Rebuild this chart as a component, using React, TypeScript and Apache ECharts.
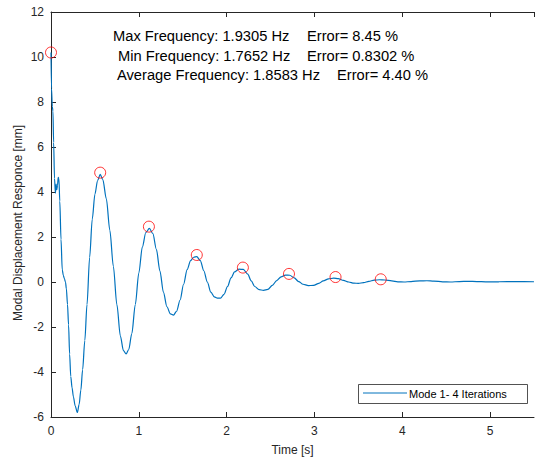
import React, { useEffect, useRef } from "react";
import * as echarts from "echarts";

const timeS: number[] = [
  0, 0.006, 0.015, 0.022, 0.03, 0.04, 0.05, 0.058, 0.066, 0.074, 0.082, 0.09, 0.1, 0.114, 0.128, 0.14,
  0.152, 0.165, 0.175, 0.188, 0.2, 0.212, 0.225, 0.24, 0.255, 0.275, 0.3, 0.32, 0.34, 0.36, 0.385, 0.41,
  0.44, 0.47, 0.5, 0.53, 0.56, 0.59, 0.63, 0.67, 0.71, 0.75, 0.79, 0.825, 0.855, 0.885, 0.92, 0.96,
  1.0, 1.04, 1.08, 1.12, 1.16, 1.2, 1.24, 1.28, 1.32, 1.36, 1.395, 1.43, 1.47, 1.51, 1.55, 1.59,
  1.625, 1.66, 1.7, 1.74, 1.78, 1.82, 1.86, 1.895, 1.93, 1.97, 2.01, 2.05, 2.09, 2.14, 2.19, 2.24,
  2.28, 2.32, 2.37, 2.42, 2.47, 2.52, 2.57, 2.62, 2.67, 2.72, 2.77, 2.82, 2.87, 2.93, 2.99, 3.05,
  3.1, 3.16, 3.22, 3.27, 3.33, 3.39, 3.45, 3.5, 3.56, 3.62, 3.68, 3.74, 3.8, 3.88, 3.95, 4.02,
  4.1, 4.2, 4.28, 4.36, 4.46, 4.55, 4.65, 4.75, 4.85, 4.95, 5.1, 5.3, 5.5,
];

const displacementMm: number[] = [
  10.2, 8.6, 7.8, 7.6, 6.2, 4.6, 3.95, 4.35, 4.1, 4.3, 4.65, 4.6, 3.6, 1.9, 0.55, 0.3,
  0.15, 0.0, -0.3, -1.0, -1.9, -3.2, -4.2, -4.7, -5.1, -5.5, -5.8, -5.45, -4.8, -3.9, -2.6, -1.0,
  1.1, 2.8, 3.9, 4.5, 4.78, 4.55, 3.7, 2.3, 0.7, -1.0, -2.4, -3.05, -3.2, -3.0, -2.3, -1.0,
  0.4, 1.55, 2.2, 2.38, 2.15, 1.45, 0.5, -0.45, -1.1, -1.42, -1.47, -1.3, -0.8, -0.1, 0.55, 0.95,
  1.1, 1.13, 0.95, 0.5, 0.0, -0.45, -0.66, -0.72, -0.72, -0.55, -0.2, 0.18, 0.45, 0.57, 0.56, 0.35,
  0.05, -0.2, -0.34, -0.37, -0.33, -0.15, 0.06, 0.23, 0.31, 0.3, 0.18, 0.02, -0.1, -0.16, -0.15, -0.06,
  0.05, 0.14, 0.17, 0.15, 0.07, 0.0, -0.05, -0.06, -0.03, 0.03, 0.08, 0.1, 0.09, 0.05, 0.01, 0.0,
  0.02, 0.05, 0.055, 0.04, 0.01, 0.0, 0.02, 0.03, 0.02, 0.01, 0.01, 0.015, 0.01,
];

const peakTimes: number[] = [0, 0.56, 1.115, 1.66, 2.185, 2.71, 3.24, 3.755];
const peakValues: number[] = [10.2, 4.86, 2.46, 1.2, 0.64, 0.36, 0.22, 0.12];

const infoLeft: string[] = [
  "Max Frequency: 1.9305 Hz",
  "Min Frequency: 1.7652 Hz",
  "Average Frequency: 1.8583 Hz",
];
const infoRight: string[] = ["Error= 8.45 %", "Error= 0.8302 %", "Error= 4.40 %"];

const legendLabel = "Mode 1- 4 Iterations";
const xTitle = "Time [s]";
const yTitle = "Modal Displacement Responce [mm]";

const FONT = "Liberation Sans";
const AXIS_COLOR = "#262626";

export default function App() {
  const ref = useRef<HTMLDivElement>(null);

  useEffect(() => {
    document.body.style.margin = "0";
    if (!ref.current) return;
    const chart = echarts.init(ref.current, undefined, { renderer: "svg" });

    const leftX = [113, 118, 117];
    const rightX = [307, 307, 337];
    const lineY = [36, 55.5, 75];

    const txt = (text: string, x: number, y: number, size: number, extra: any = {}) => ({
      type: "text",
      x,
      y,
      z: 100,
      ...extra,
      style: {
        text,
        fill: "#000",
        fontSize: size,
        fontFamily: FONT,
        verticalAlign: "middle",
        align: "left",
        ...(extra.style || {}),
      },
    });

    const graphics: any[] = [];
    infoLeft.forEach((t, i) => {
      graphics.push(txt(t, leftX[i], lineY[i], 14.7));
      graphics.push(txt(infoRight[i], rightX[i], lineY[i], 14.7));
    });
    graphics.push(
      txt(yTitle, 18, 223, 12, { rotation: Math.PI / 2, style: { align: "center", fill: AXIS_COLOR } })
    );
    graphics.push({
      type: "rect",
      shape: { x: 358.5, y: 384.5, width: 169, height: 19 },
      style: { fill: "#fff", stroke: AXIS_COLOR, lineWidth: 0.8 },
      z: 100,
    });
    graphics.push({
      type: "line",
      shape: { x1: 363, y1: 393, x2: 407, y2: 393 },
      style: { stroke: "#0072BD", lineWidth: 1 },
      z: 101,
    });
    graphics.push(txt(legendLabel, 409, 394, 11, { z: 101 }));

    const axisCommon = {
      type: "value" as const,
      min: 0,
      max: 5.5,
      interval: 1,
      axisLine: { show: true, onZero: false, lineStyle: { color: AXIS_COLOR, width: 1 } },
      axisTick: { show: true, inside: true, length: 5, lineStyle: { color: AXIS_COLOR } },
      splitLine: { show: false },
    };

    chart.setOption({
      animation: false,
      textStyle: { fontFamily: FONT },
      grid: { left: 51, right: 1, top: 12, bottom: 44, containLabel: false, outerBoundsMode: "none" },
      xAxis: [
        {
          ...axisCommon,
          position: "bottom",
          name: xTitle,
          nameLocation: "middle",
          nameGap: 27,
          nameTextStyle: { color: AXIS_COLOR, fontSize: 12, fontFamily: FONT },
          axisLabel: { color: AXIS_COLOR, fontSize: 12, margin: 8, showMaxLabel: false, fontFamily: FONT },
        },
        {
          ...axisCommon,
          position: "top",
          axisLabel: { show: false },
        },
      ],
      yAxis: {
        type: "value",
        min: -6,
        max: 12,
        interval: 2,
        axisLine: { show: true, onZero: false, lineStyle: { color: AXIS_COLOR, width: 1 } },
        axisTick: { show: true, inside: true, length: 5, lineStyle: { color: AXIS_COLOR } },
        axisLabel: { color: AXIS_COLOR, fontSize: 12, margin: 7, fontFamily: FONT },
        splitLine: { show: false },
      },
      series: [
        {
          type: "line",
          xAxisIndex: 0,
          data: timeS.map((t, i) => [t, displacementMm[i]]),
          showSymbol: false,
          smooth: 0.3,
          smoothMonotone: "x",
          lineStyle: { color: "#0072BD", width: 1.2 },
          itemStyle: { color: "#0072BD" },
          z: 2,
        },
        {
          type: "scatter",
          xAxisIndex: 0,
          data: peakTimes.map((t, i) => [t, peakValues[i]]),
          symbol: "circle",
          symbolSize: 11,
          itemStyle: { color: "rgba(0,0,0,0)", borderColor: "#ff0000", borderWidth: 1 },
          clip: false,
          z: 3,
        },
      ],
      graphic: graphics,
    });

    return () => chart.dispose();
  }, []);

  return <div ref={ref} style={{ width: 535, height: 461 }} />;
}
